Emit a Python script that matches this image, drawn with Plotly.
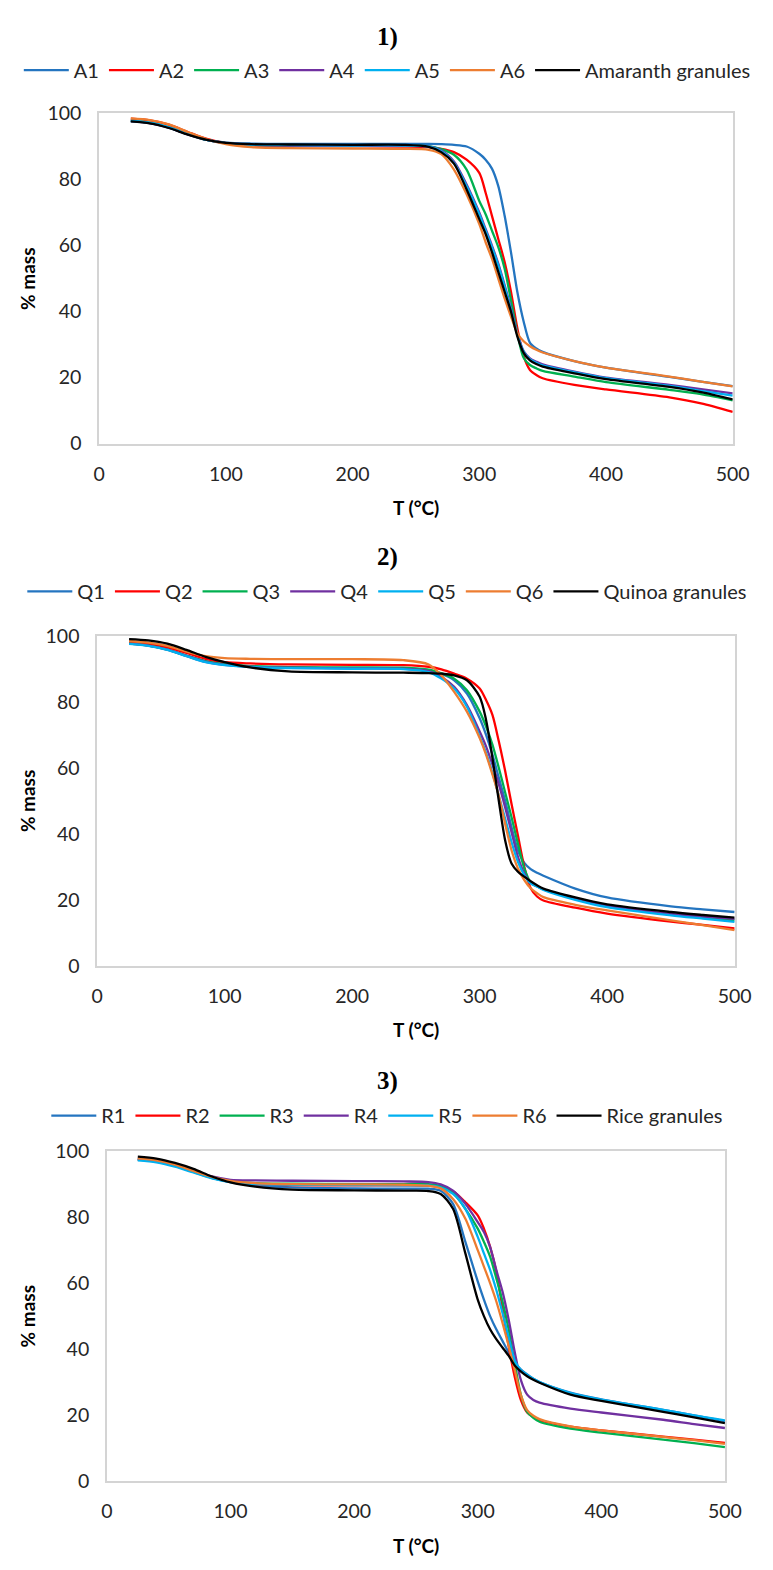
import plotly.graph_objects as go

# Temperature grid (°C) shared by all TGA curves
T_GRID = [25, 40, 55, 70, 85, 100, 120, 150, 200, 240, 260, 270, 280, 290, 300,
          305, 310, 315, 320, 325, 330, 335, 340, 345, 350, 375, 400, 450, 475, 500]

# 1) Amaranth samples (% mass)
A1 = [97.7, 97.1, 95.7, 93.7, 92.0, 91.2, 90.9, 90.8, 90.8, 90.8, 90.8, 90.7, 90.5, 90.0, 87.8,
      86.0, 83.3, 78.0, 69.0, 58.0, 46.0, 37.0, 30.5, 28.8, 27.8, 25.0, 23.0, 20.2, 18.8, 17.4]
A2 = [98.4, 97.9, 96.6, 94.4, 92.3, 91.0, 90.4, 90.2, 90.1, 90.0, 89.8, 89.3, 88.3, 86.0, 82.0,
      76.0, 69.0, 62.0, 55.0, 46.0, 35.0, 26.5, 22.3, 20.8, 19.8, 17.8, 16.4, 14.0, 12.2, 9.6]
A3 = [97.8, 97.2, 95.8, 93.8, 92.0, 91.0, 90.5, 90.4, 90.3, 90.3, 90.1, 89.2, 87.5, 83.0, 73.5,
      69.5, 64.5, 59.5, 53.0, 43.5, 33.5, 26.0, 23.8, 22.8, 22.0, 20.3, 18.6, 16.3, 15.0, 13.1]
A4 = [97.7, 97.1, 95.7, 93.7, 92.0, 91.0, 90.5, 90.3, 90.2, 90.2, 90.0, 88.8, 85.5, 78.5, 70.0,
      65.0, 60.0, 54.5, 48.0, 41.0, 33.5, 28.0, 25.8, 24.8, 24.0, 21.8, 20.0, 17.8, 16.5, 15.2]
A5 = [97.8, 97.2, 95.8, 93.8, 92.0, 91.0, 90.5, 90.4, 90.3, 90.3, 90.0, 88.6, 85.0, 78.0, 69.5,
      64.5, 59.5, 54.0, 47.5, 40.5, 33.0, 27.8, 25.5, 24.5, 23.7, 21.6, 19.8, 17.5, 16.0, 14.5]
A6 = [98.5, 98.0, 96.7, 94.4, 92.2, 90.7, 89.8, 89.5, 89.4, 89.3, 89.0, 87.7, 83.0, 75.5, 66.5,
      61.0, 56.0, 50.0, 44.0, 38.5, 33.5, 31.0, 29.5, 28.4, 27.6, 25.0, 23.0, 20.3, 18.8, 17.3]
AMARANTH_GRANULES = [97.6, 97.0, 95.6, 93.6, 92.0, 91.1, 90.7, 90.6, 90.5, 90.5, 89.9, 88.3, 84.8, 77.0, 68.0,
                     63.5, 58.0, 52.0, 46.0, 40.0, 32.5, 27.5, 25.2, 24.1, 23.3, 21.3, 19.5, 17.2, 15.6, 13.4]

# 2) Quinoa samples (% mass)
Q1 = [97.7, 97.1, 95.9, 94.0, 92.3, 91.3, 90.7, 90.4, 90.2, 90.1, 89.6, 88.5, 86.5, 82.5, 75.0,
      70.0, 64.0, 57.0, 50.0, 42.0, 35.0, 31.2, 29.3, 28.2, 27.3, 23.4, 20.7, 18.0, 17.1, 16.3]
Q2 = [98.0, 97.5, 96.5, 94.8, 93.0, 92.0, 91.6, 91.3, 91.2, 91.1, 90.6, 89.8, 88.5, 87.0, 84.0,
      80.5, 76.0, 68.0, 59.0, 49.0, 39.5, 30.0, 23.5, 21.0, 19.8, 17.6, 15.8, 13.4, 12.4, 11.3]
Q3 = [97.6, 97.0, 95.8, 93.9, 92.2, 91.3, 90.8, 90.5, 90.4, 90.3, 89.7, 88.6, 87.0, 83.5, 77.0,
      72.5, 67.0, 60.0, 52.5, 45.0, 37.0, 29.5, 25.3, 24.1, 23.2, 20.5, 18.3, 15.5, 14.6, 13.8]
Q4 = [97.6, 97.0, 95.8, 93.9, 92.1, 91.2, 90.6, 90.3, 90.1, 90.0, 89.3, 87.5, 84.5, 79.0, 71.0,
      66.5, 61.0, 55.0, 48.0, 40.5, 33.0, 28.0, 25.2, 24.1, 23.2, 20.3, 18.2, 15.7, 14.9, 14.2]
Q5 = [97.5, 96.9, 95.7, 93.8, 92.0, 91.1, 90.5, 90.2, 90.0, 89.9, 89.0, 87.0, 84.0, 78.5, 69.5,
      64.5, 58.5, 51.5, 44.5, 37.5, 31.5, 27.5, 25.0, 24.0, 23.0, 20.0, 17.8, 15.3, 14.3, 13.3]
Q6 = [98.4, 97.9, 96.9, 95.2, 93.8, 93.2, 93.0, 92.9, 92.9, 92.6, 91.3, 88.0, 83.0, 77.0, 69.0,
      64.0, 58.0, 51.5, 43.0, 35.0, 29.5, 26.0, 23.5, 22.0, 20.8, 18.5, 16.8, 13.8, 12.3, 10.8]
QUINOA_GRANULES = [99.0, 98.6, 97.6, 95.7, 93.6, 92.0, 90.4, 89.2, 88.9, 88.8, 88.7, 88.5, 88.0, 86.5, 81.5,
                   74.5, 63.0, 50.0, 38.0, 31.0, 28.5, 27.0, 25.6, 24.4, 23.4, 20.7, 18.6, 16.3, 15.4, 14.6]

# 3) Rice samples (% mass)
R1 = [97.5, 96.9, 95.6, 93.8, 91.9, 90.6, 89.6, 89.0, 88.7, 88.6, 88.6, 88.0, 84.0, 72.5, 60.5,
      55.0, 50.0, 46.0, 42.5, 39.0, 35.8, 33.8, 32.3, 31.0, 30.0, 26.8, 24.8, 21.6, 19.9, 18.2]
R2 = [97.6, 97.0, 95.7, 93.9, 92.0, 90.8, 90.0, 89.7, 89.6, 89.6, 89.5, 89.0, 87.8, 84.5, 80.5,
      76.5, 71.0, 63.5, 52.5, 41.0, 31.5, 24.5, 20.8, 19.4, 18.5, 16.5, 15.4, 13.5, 12.6, 11.6]
R3 = [97.4, 96.8, 95.5, 93.7, 91.9, 90.8, 90.3, 90.1, 90.0, 90.0, 90.0, 89.4, 87.3, 82.5, 76.5,
      72.5, 68.0, 61.5, 54.5, 46.0, 35.5, 26.0, 21.0, 19.2, 18.0, 15.9, 14.7, 12.6, 11.5, 10.3]
R4 = [97.5, 96.9, 95.7, 94.0, 92.3, 91.3, 91.1, 91.0, 90.9, 90.8, 90.6, 89.9, 88.0, 84.0, 78.5,
      75.5, 71.0, 64.0, 57.5, 49.0, 39.0, 30.5, 26.2, 24.6, 23.8, 22.0, 20.8, 18.6, 17.3, 16.1]
R5 = [97.2, 96.6, 95.3, 93.5, 91.7, 90.6, 90.0, 89.8, 89.7, 89.6, 89.6, 89.0, 87.0, 82.5, 74.0,
      69.0, 64.0, 58.0, 51.0, 43.5, 36.5, 33.6, 32.2, 31.0, 30.0, 26.7, 24.7, 21.6, 19.9, 18.4]
R6 = [97.8, 97.2, 95.9, 94.0, 92.2, 91.0, 90.3, 90.0, 89.9, 89.8, 89.5, 88.7, 85.5, 79.5, 70.0,
      65.0, 60.0, 54.5, 48.0, 41.0, 33.5, 26.0, 21.5, 19.8, 18.8, 16.6, 15.4, 13.4, 12.4, 11.3]
RICE_GRANULES = [98.3, 97.7, 96.4, 94.6, 92.3, 90.5, 89.2, 88.3, 88.1, 88.0, 87.9, 87.0, 82.5, 69.0, 55.0,
                 50.0, 46.0, 43.0, 40.5, 38.0, 35.0, 33.2, 31.8, 30.7, 29.8, 26.2, 24.3, 21.0, 19.3, 17.6]

SERIES_COLORS = ["#2475C0", "#FF0000", "#00B050", "#7030A0", "#00B0F0", "#ED7D31", "#000000"]

PANELS = [
    {"title": "1)", "names": ["A1", "A2", "A3", "A4", "A5", "A6", "Amaranth granules"],
     "values": [A1, A2, A3, A4, A5, A6, AMARANTH_GRANULES],
     "box": (96, 749, 103, 438), "title_y": 25, "legend_y": 59},
    {"title": "2)", "names": ["Q1", "Q2", "Q3", "Q4", "Q5", "Q6", "Quinoa granules"],
     "values": [Q1, Q2, Q3, Q4, Q5, Q6, QUINOA_GRANULES],
     "box": (94, 751, 633, 968), "title_y": 553, "legend_y": 588},
    {"title": "3)", "names": ["R1", "R2", "R3", "R4", "R5", "R6", "Rice granules"],
     "values": [R1, R2, R3, R4, R5, R6, RICE_GRANULES],
     "box": (104, 741, 1156, 1491), "title_y": 1085, "legend_y": 1120},
]

W, H = 773, 1570
FONT = "Lato"
fig = go.Figure()
annotations = []
layout = {}

for i, panel in enumerate(PANELS):
    k = "" if i == 0 else str(i + 1)
    x0, x1, y0, y1 = panel["box"]
    legend_name = "legend" + k
    for name, vals, color in zip(panel["names"], panel["values"], SERIES_COLORS):
        fig.add_trace(go.Scatter(
            x=T_GRID, y=vals, name=name, mode="lines",
            line=dict(color=color, width=2.3, shape="spline", smoothing=0.8),
            xaxis="x" + k, yaxis="y" + k, legend=legend_name,
        ))
    layout["xaxis" + k] = dict(
        domain=[x0 / W, x1 / W], anchor="y" + k, range=[0, 500], dtick=100,
        showgrid=False, zeroline=False, showline=True, mirror=True,
        linecolor="#d4d4d4", linewidth=1.6, ticks="", ticklabelstandoff=12,
        tickfont=dict(family=FONT, size=19.5, color="#262626"),
    )
    layout["yaxis" + k] = dict(
        domain=[1 - y1 / H, 1 - y0 / H], anchor="x" + k, range=[0, 100], dtick=20,
        showgrid=False, zeroline=False, showline=True, mirror=True,
        linecolor="#d4d4d4", linewidth=1.6, ticks="", ticklabelstandoff=12,
        tickfont=dict(family=FONT, size=19.5, color="#262626"),
    )
    layout[legend_name] = dict(
        orientation="h", x=393 / W, xanchor="center",
        y=1 - panel["legend_y"] / H, yanchor="middle",
        font=dict(family=FONT, size=20, color="#262626"),
        bgcolor="rgba(0,0,0,0)", tracegroupgap=0, itemwidth=45,
    )
    annotations.append(dict(
        text="<b>" + panel["title"] + "</b>", x=393 / W, y=1 - panel["title_y"] / H,
        xref="paper", yref="paper", showarrow=False, xanchor="center", yanchor="middle",
        font=dict(family="Liberation Serif", size=25, color="#000000"),
    ))
    annotations.append(dict(
        text="<b>% mass</b>", x=22 / W, y=1 - (y0 + y1) / 2 / H, textangle=-90,
        xref="paper", yref="paper", showarrow=False, xanchor="center", yanchor="middle",
        font=dict(family=FONT, size=19, color="#000000"),
    ))
    annotations.append(dict(
        text="<b>T (°C)</b>", x=(x0 + x1) / 2 / W, y=1 - (y1 + 65) / H,
        xref="paper", yref="paper", showarrow=False, xanchor="center", yanchor="middle",
        font=dict(family=FONT, size=19, color="#000000"),
    ))

fig.update_layout(
    width=W, height=H, margin=dict(l=0, r=0, t=0, b=0),
    paper_bgcolor="white", plot_bgcolor="white",
    annotations=annotations, **layout,
)

fig.write_html("out.html")
